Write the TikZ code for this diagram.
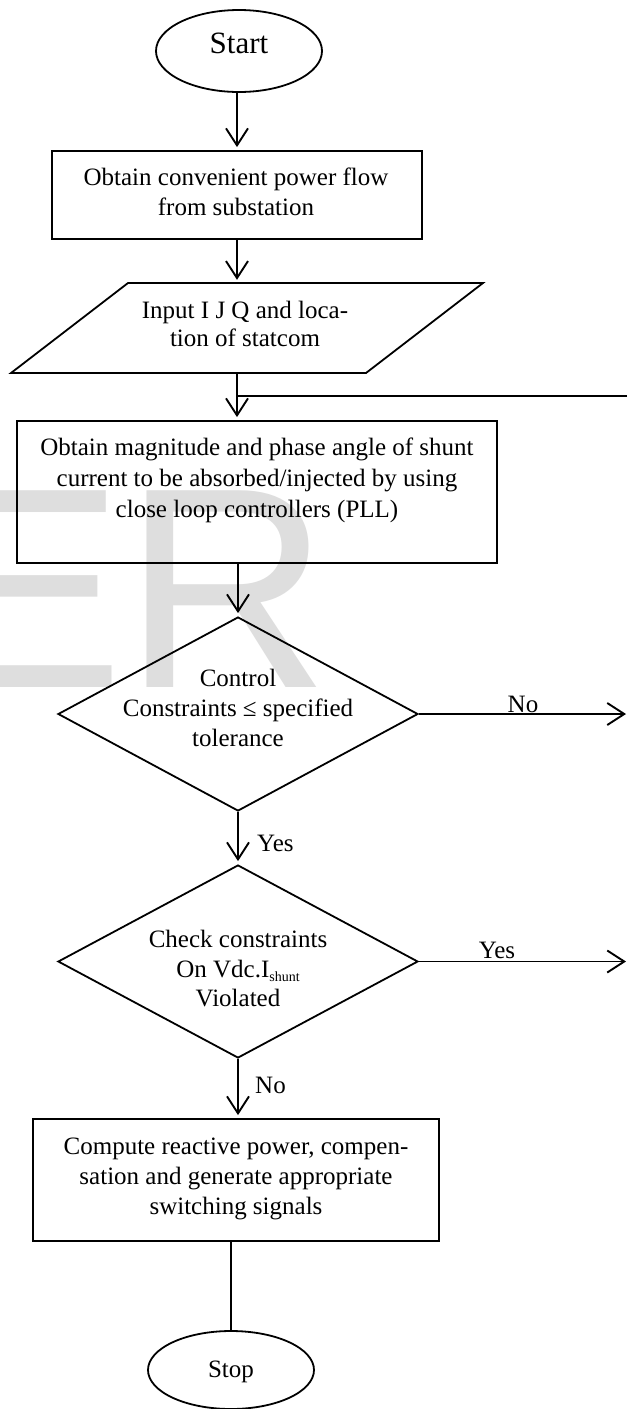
\documentclass[tikz,border=0pt]{standalone}
\usepackage{fontspec}
\setmainfont{Liberation Serif}
\newfontfamily\wmfont{Liberation Sans}
\usetikzlibrary{shapes.geometric,arrows.meta}
\begin{document}
\begin{tikzpicture}[x=1pt,y=-1pt,
  line/.style={line width=1.9pt},
  arr/.style={line width=1.9pt,-{Straight Barb[length=17pt,width=22pt]},shorten >=3pt},
  shp/.style={draw,line width=1.8pt,inner sep=0pt},
  boxs/.style={shp,rectangle},
  txt/.style={font=\fontsize{25}{30}\selectfont,align=center,inner sep=0pt},
  lbl/.style={font=\fontsize{25}{30}\selectfont,inner sep=0pt},
]
\useasboundingbox (0,0) rectangle (627,1409);
\fill[white] (0,0) rectangle (627,1409);
% watermark
\node[anchor=base west,inner sep=0pt,text=black!13,font=\wmfont\fontsize{286}{286}\selectfont] (wm) at (-67,687) {ER};

% Start
\node[shp,ellipse,minimum width=166,minimum height=82] (start) at (239,51) {};
\node[lbl,anchor=base,font=\fontsize{31}{36}\selectfont] (startt) at (239,53) {Start};

% Box 1
\node[boxs,minimum width=370,minimum height=88] (b1) at (237,195) {};
\node[txt] (b1t) at (236,191.5) {Obtain convenient power flow\\from substation};

% Input parallelogram
\node[minimum width=355,minimum height=90,inner sep=0pt] (inp) at (247,328) {};
\draw[line width=1.8pt] (128,283) -- (483,283) -- (366,373) -- (11,373) -- cycle;
\node[txt,font=\fontsize{25}{28}\selectfont] (inpt) at (245,323.5) {Input I J Q and loca-\\tion of statcom};

% Box 2
\node[boxs,minimum width=480,minimum height=142] (b2) at (257,492) {};
\node[txt,font=\fontsize{25}{31}\selectfont] (b2t) at (257,480) {Obtain magnitude and phase angle of shunt\\current to be absorbed/injected by using\\close loop controllers (PLL)};

% Diamond 1
\node[shp,diamond,minimum width=360,minimum height=194] (d1) at (238,714) {};
\node[txt] (d1t) at (238,707.5) {Control\\Constraints ≤ specified\\tolerance};

% Diamond 2
\node[shp,diamond,minimum width=360,minimum height=193] (d2) at (238,961.5) {};
\node[txt,font=\fontsize{25}{29.5}\selectfont] (d2t) at (238,969) {Check constraints\\On Vdc.I\raisebox{-4pt}{\fontsize{14}{14}\selectfont shunt}\\Violated};

% Box 3
\node[boxs,minimum width=406,minimum height=122] (b3) at (236,1180) {};
\node[txt] (b3t) at (236,1179) {Compute reactive power, compen-\\sation and generate appropriate\\switching signals};

% Stop
\node[shp,ellipse,minimum width=166,minimum height=78] (stop) at (231,1370) {};
\node[lbl,anchor=base] (stopt) at (231,1377) {Stop};

% labels
\node[lbl,anchor=base] (lno1) at (523,712) {No};
\node[lbl,anchor=base] (lyes2) at (497,958) {Yes};
\node[lbl,anchor=base west] (lyes1) at (257,851) {Yes};
\node[lbl,anchor=base west] (lno2) at (255,1093) {No};

% connectors
\coordinate (rim) at (626,0);
\coordinate (fb) at (627,396);
\draw[arr] (b1.north |- start.south) -- (b1.north);
\draw[arr] (b1.south) -- (b1.south |- inp.north);
\draw[arr] (b1.south |- inp.south) -- (b1.south |- b2.north);
\draw[line width=1.6pt] (fb) -- (fb -| b1.south);
\draw[arr] (d1.north |- b2.south) -- (d1.north);
\draw[arr,shorten >=0pt] (d1.east) -- (d1.east -| rim);
\draw[arr] (d1.south) -- (d2.north);
\draw[arr,shorten >=0pt] (d2.east) -- (d2.east -| rim);
\draw[arr] (d2.south) -- (d2.south |- b3.north);
\draw[line] (stop.north |- b3.south) -- (stop.north);
\end{tikzpicture}
\end{document}
